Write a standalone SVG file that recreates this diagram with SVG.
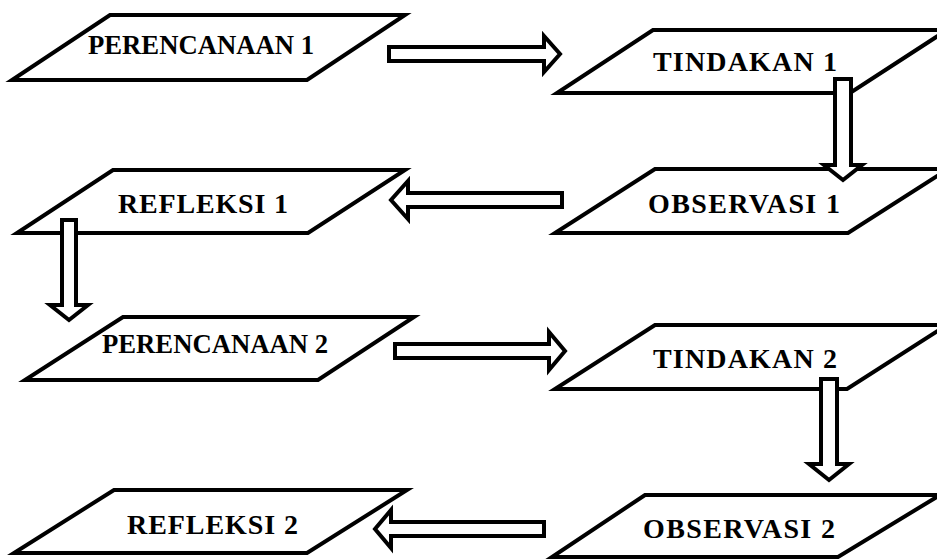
<svg xmlns="http://www.w3.org/2000/svg" width="937" height="560" viewBox="0 0 937 560">
<style>
.shape{fill:#fff;stroke:#000;stroke-width:4;stroke-linejoin:miter}
.arr{fill:#fff;stroke:#000;stroke-width:4;stroke-linejoin:miter}
.lbl{font-family:"Liberation Serif","Times New Roman",serif;font-weight:bold;font-size:28px;fill:#000}
</style>
<rect width="937" height="560" fill="#fff"/>
<g id="perencanaan1">
<polygon class="shape" points="110,15 405,15 307,80 12,80"/>
<text class="lbl" x="88" y="54" textLength="226" lengthAdjust="spacingAndGlyphs">PERENCANAAN 1</text>
</g>
<g id="tindakan1">
<polygon class="shape" points="653,30 947,30 850,93 557,93"/>
<text class="lbl" x="653" y="71" textLength="184" lengthAdjust="spacing">TINDAKAN 1</text>
</g>
<g id="observasi1">
<polygon class="shape" points="655,169 948,169 848,233 555,233"/>
<text class="lbl" x="648" y="213" textLength="192" lengthAdjust="spacing">OBSERVASI 1</text>
</g>
<g id="refleksi1">
<polygon class="shape" points="113,170 405,170 308,233 17,233"/>
<text class="lbl" x="118" y="213" textLength="170" lengthAdjust="spacing">REFLEKSI 1</text>
</g>
<g id="perencanaan2">
<polygon class="shape" points="123,317 414,317 318,380 25,380"/>
<text class="lbl" x="102" y="353" textLength="226" lengthAdjust="spacingAndGlyphs">PERENCANAAN 2</text>
</g>
<g id="tindakan2">
<polygon class="shape" points="655,325 947,325 847,389 555,389"/>
<text class="lbl" x="653" y="368" textLength="184" lengthAdjust="spacing">TINDAKAN 2</text>
</g>
<g id="observasi2">
<polygon class="shape" points="645,495 940,495 838,557 552,557"/>
<text class="lbl" x="643" y="538" textLength="192" lengthAdjust="spacing">OBSERVASI 2</text>
</g>
<g id="refleksi2">
<polygon class="shape" points="114,490 407,490 307,553 14,553"/>
<text class="lbl" x="127" y="534" textLength="171" lengthAdjust="spacing">REFLEKSI 2</text>
</g>
<g id="connectors">
<path class="arr" d="M389,47 H544 V36 L560,54 L544,72 V61 H389 Z"/>
<path class="arr" d="M835,79 V165 H824 L843,180 L862,165 H851 V79 Z"/>
<path class="arr" d="M562,193 H408 V181 L391,200 L408,219 V207 H562 Z"/>
<path class="arr" d="M62,220 V305 H50 L69,320 L88,305 H76 V220 Z"/>
<path class="arr" d="M395,344 H549 V332 L565,351 L549,370 V358 H395 Z"/>
<path class="arr" d="M821,379 V464 H809 L829,480 L849,464 H837 V379 Z"/>
<path class="arr" d="M544,522 H391 V510 L375,529 L391,548 V536 H544 Z"/>
</g>
</svg>
